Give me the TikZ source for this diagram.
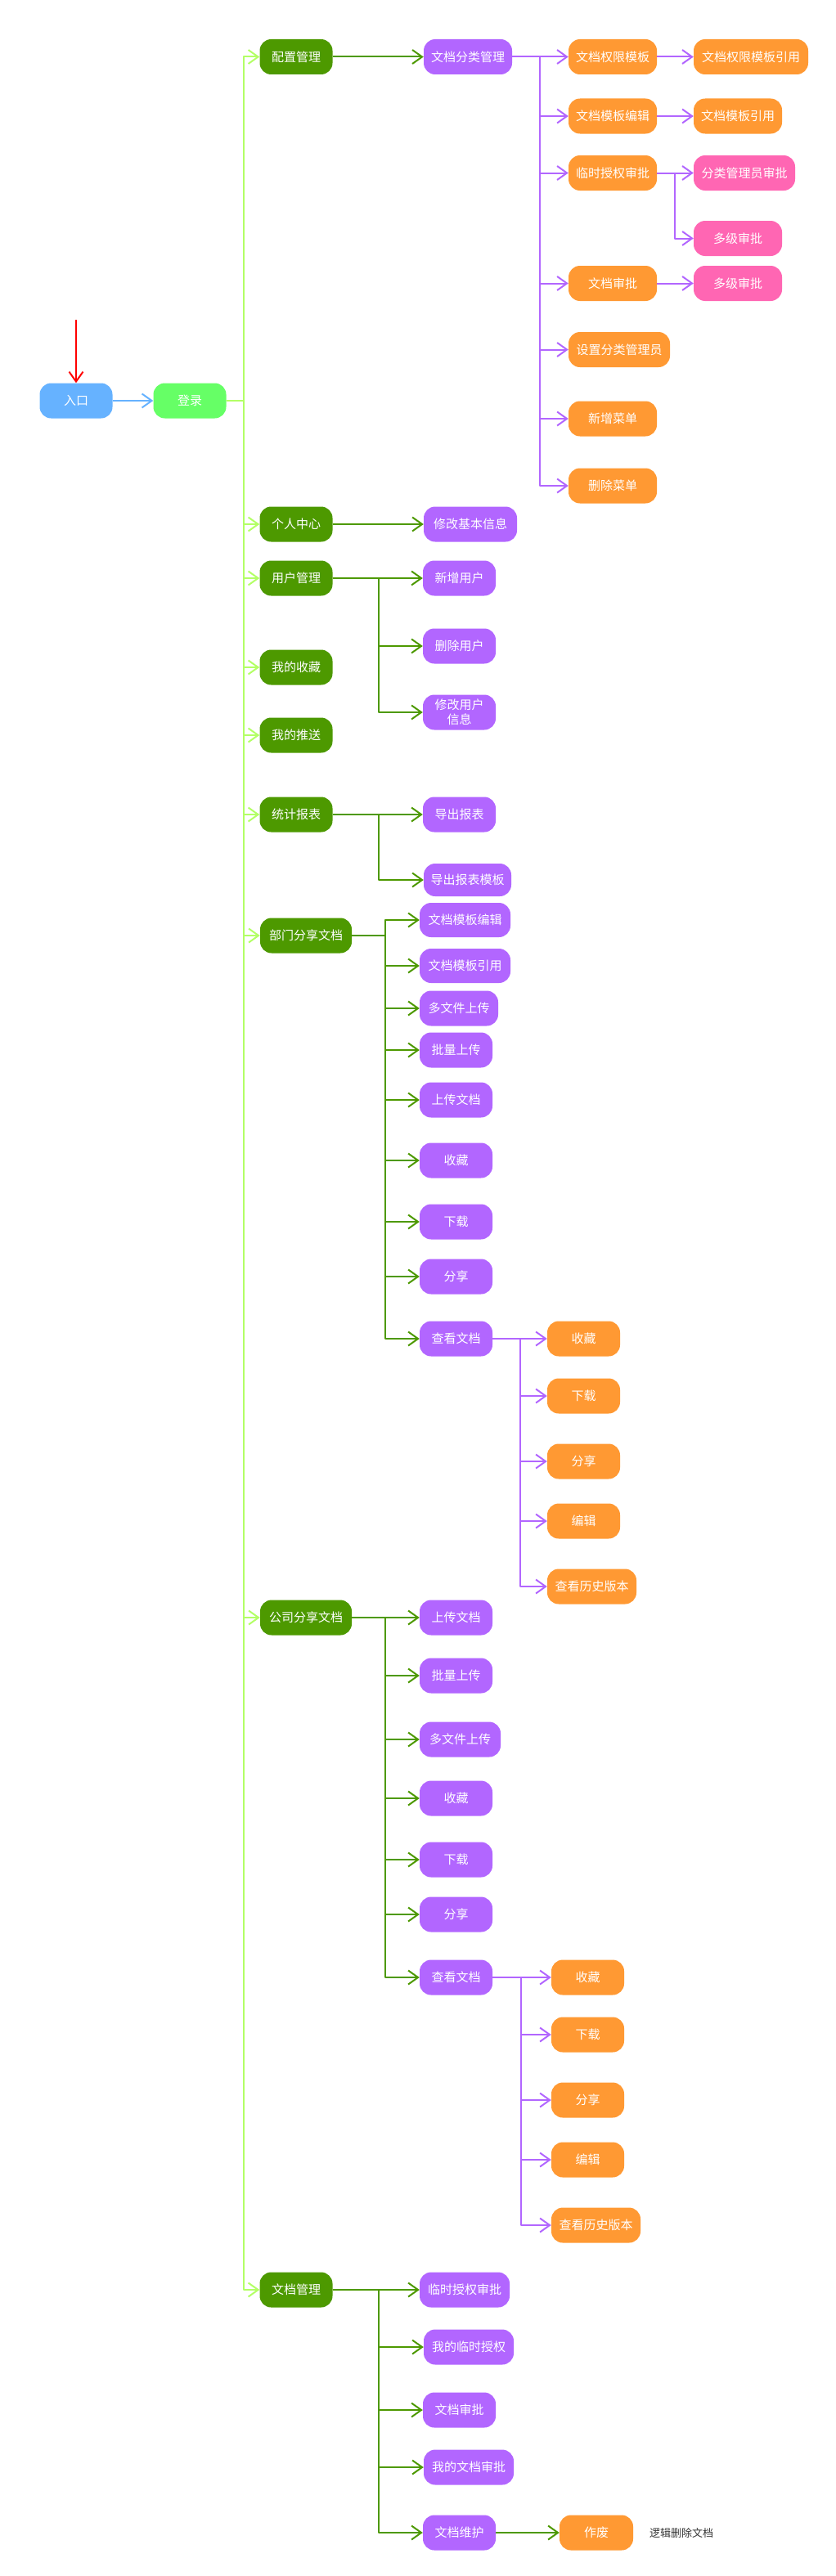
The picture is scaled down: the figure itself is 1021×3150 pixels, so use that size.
\documentclass[tikz,border=0pt]{standalone}
\usepackage{fontspec}
\newfontfamily\cjkfont{Noto Sans CJK SC}
\usetikzlibrary{arrows.meta}

\definecolor{entryblue}{HTML}{66B2FF}
\definecolor{loginlime}{HTML}{66FF66}
\definecolor{trunklime}{HTML}{B3FF66}
\definecolor{leafgreen}{HTML}{4D9900}
\definecolor{modpurple}{HTML}{B266FF}
\definecolor{taskorange}{HTML}{FF9933}
\definecolor{approvepink}{HTML}{FF66B3}
\definecolor{notegray}{HTML}{333333}

\begin{document}
\begin{tikzpicture}[
    x=1pt,
    y=-1pt,
    line join=round,
    box/.style={
        rectangle,
        rounded corners=14pt,
        minimum width=89pt,
        minimum height=43pt,
        inner sep=0pt,
        align=center,
        text=white,
        font=\cjkfont\fontsize{15}{18}\selectfont
    },
    lvlone/.style={box, fill=leafgreen},
    func/.style={box, fill=modpurple},
    oper/.style={box, fill=taskorange},
    appr/.style={box, fill=approvepink},
    note/.style={
        text=notegray,
        font=\cjkfont\fontsize{13}{16}\selectfont
    },
    link/.style={
        line width=2pt,
        -{Straight Barb[length=12pt,width=17pt]}
    },
    trunk/.style={link, trunklime},
    glink/.style={link, leafgreen},
    plink/.style={link, modpurple}
]

\useasboundingbox (0,0) rectangle (1021,3150);

% -------------------------------------------------
% 入口与登录
% -------------------------------------------------

\coordinate (start) at (93,391);   % 起始箭头

\node[box, fill=entryblue] (entry) at (93,490) {入口};
\node[box, fill=loginlime] (login) at (232,490) {登录};

% -------------------------------------------------
% 一级菜单
% -------------------------------------------------

\node[lvlone] (cfg)  at (362,69.5) {配置管理};
\node[lvlone] (home) at (362,641)  {个人中心};
\node[lvlone] (usr)  at (362,707)  {用户管理};
\node[lvlone] (fav)  at (362,816)  {我的收藏};
\node[lvlone] (push) at (362,899)  {我的推送};
\node[lvlone] (stat) at (362,996)  {统计报表};
\node[lvlone, minimum width=112pt] (dept) at (374,1144) {部门分享文档};
\node[lvlone, minimum width=112pt] (corp) at (374,1978) {公司分享文档};
\node[lvlone] (docm) at (362,2800) {文档管理};

% -------------------------------------------------
% 配置管理
% -------------------------------------------------

\node[func, minimum width=108pt] (cat) at (572,69.5) {文档分类管理};

\node[oper, minimum width=108pt] (tpl)   at (749,69.5)  {文档权限模板};
\node[oper, minimum width=108pt] (tedit) at (749,142)   {文档模板编辑};
\node[oper, minimum width=108pt] (tmp)   at (749,211.5) {临时授权审批};
\node[oper, minimum width=108pt] (aud)   at (749,346.5) {文档审批};
\node[oper, minimum width=124pt] (setm)  at (757,427.5) {设置分类管理员};
\node[oper, minimum width=108pt] (addm)  at (749,512)   {新增菜单};
\node[oper, minimum width=108pt] (delm)  at (749,594)   {删除菜单};

\node[oper, minimum width=140pt] (tplref) at (918,69.5)  {文档权限模板引用};
\node[oper, minimum width=108pt] (tref)   at (902,142)   {文档模板引用};
\node[appr, minimum width=124pt] (catok)  at (910,211.5) {分类管理员审批};
\node[appr, minimum width=108pt] (multa)  at (902,291.5) {多级审批};
\node[appr, minimum width=108pt] (multb)  at (902,346.5) {多级审批};

% -------------------------------------------------
% 个人中心、用户管理、统计报表
% -------------------------------------------------

\node[func, minimum width=114pt] (info) at (575,641) {修改基本信息};

\node[func] (uadd)  at (561.5,707) {新增用户};
\node[func] (udel)  at (561.5,790) {删除用户};
\node[func] (uedit) at (561.5,871) {修改用户\\信息};

\node[func] (rep) at (561.5,996) {导出报表};
\node[func, minimum width=107pt, minimum height=40pt] (reptpl) at (571.5,1076) {导出报表模板};

% -------------------------------------------------
% 部门分享文档
% -------------------------------------------------

\node[func, minimum width=111pt, minimum height=42pt] (dtedit) at (568.5,1125) {文档模板编辑};
\node[func, minimum width=111pt, minimum height=42pt] (dtref)  at (568.5,1181) {文档模板引用};
\node[func, minimum width=96pt] (dmulti) at (561,1233)   {多文件上传};
\node[func] (dbatch) at (557.5,1284) {批量上传};
\node[func] (dup)    at (557.5,1345) {上传文档};
\node[func] (dfav)   at (557.5,1419) {收藏};
\node[func] (ddown)  at (557.5,1494) {下载};
\node[func] (dshare) at (557.5,1561) {分享};
\node[func] (dview)  at (557.5,1637) {查看文档};

\node[oper] (dvfav)   at (713.5,1637) {收藏};
\node[oper] (dvdown)  at (713.5,1707) {下载};
\node[oper] (dvshare) at (713.5,1787) {分享};
\node[oper] (dvedit)  at (713.5,1860) {编辑};
\node[oper, minimum width=109pt] (dvhist) at (723.5,1940) {查看历史版本};

% -------------------------------------------------
% 公司分享文档
% -------------------------------------------------

\node[func] (cup)    at (557.5,1978) {上传文档};
\node[func] (cbatch) at (557.5,2049) {批量上传};
\node[func, minimum width=99pt] (cmulti) at (562.5,2127) {多文件上传};
\node[func] (cfav)   at (557.5,2199) {收藏};
\node[func] (cdown)  at (557.5,2274) {下载};
\node[func] (cshare) at (557.5,2341) {分享};
\node[func] (cview)  at (557.5,2418) {查看文档};

\node[oper] (cvfav)   at (718.5,2418) {收藏};
\node[oper] (cvdown)  at (718.5,2488) {下载};
\node[oper] (cvshare) at (718.5,2568) {分享};
\node[oper] (cvedit)  at (718.5,2641) {编辑};
\node[oper, minimum width=109pt] (cvhist) at (728.5,2721) {查看历史版本};

% -------------------------------------------------
% 文档管理
% -------------------------------------------------

\node[func, minimum width=110pt] (mtmp)   at (568,2800)   {临时授权审批};
\node[func, minimum width=110pt] (mmine)  at (573,2870)   {我的临时授权};
\node[func] (maud)  at (561.5,2947) {文档审批};
\node[func, minimum width=110pt] (mmyaud) at (573,3017)   {我的文档审批};
\node[func] (mkeep) at (561.5,3097) {文档维护};

\node[oper, minimum width=90pt] (void) at (729,3097) {作废};
\node[note] (voidnote) at (833,3097) {逻辑删除文档};

% -------------------------------------------------
% 入口连线
% -------------------------------------------------

\draw[link, red] (start) -- (entry.north);
\draw[link, entryblue] (entry.east) -- (login.west);

% -------------------------------------------------
% 主干：登录 -> 一级菜单
% -------------------------------------------------

\draw[trunk] (login.east) -- ++(21,0) |- (cfg.west);
\draw[trunk] (login.east) -- ++(21,0) |- (home.west);
\draw[trunk] (login.east) -- ++(21,0) |- (usr.west);
\draw[trunk] (login.east) -- ++(21,0) |- (fav.west);
\draw[trunk] (login.east) -- ++(21,0) |- (push.west);
\draw[trunk] (login.east) -- ++(21,0) |- (stat.west);
\draw[trunk] (login.east) -- ++(21,0) |- (dept.west);
\draw[trunk] (login.east) -- ++(21,0) |- (corp.west);
\draw[trunk] (login.east) -- ++(21,0) |- (docm.west);

% -------------------------------------------------
% 配置管理分支
% -------------------------------------------------

\draw[glink] (cfg.east) -- (cat.west);

\draw[plink] (cat.east) -- ++(34,0) |- (tpl.west);
\draw[plink] (cat.east) -- ++(34,0) |- (tedit.west);
\draw[plink] (cat.east) -- ++(34,0) |- (tmp.west);
\draw[plink] (cat.east) -- ++(34,0) |- (aud.west);
\draw[plink] (cat.east) -- ++(34,0) |- (setm.west);
\draw[plink] (cat.east) -- ++(34,0) |- (addm.west);
\draw[plink] (cat.east) -- ++(34,0) |- (delm.west);

\draw[plink] (tpl.east) -- (tplref.west);
\draw[plink] (tedit.east) -- (tref.west);
\draw[plink] (tmp.east) -- ++(22,0) |- (catok.west);
\draw[plink] (tmp.east) -- ++(22,0) |- (multa.west);
\draw[plink] (aud.east) -- (multb.west);

% -------------------------------------------------
% 个人中心、用户管理、统计报表分支
% -------------------------------------------------

\draw[glink] (home.east) -- (info.west);

\draw[glink] (usr.east) -- ++(56,0) |- (uadd.west);
\draw[glink] (usr.east) -- ++(56,0) |- (udel.west);
\draw[glink] (usr.east) -- ++(56,0) |- (uedit.west);

\draw[glink] (stat.east) -- ++(56,0) |- (rep.west);
\draw[glink] (stat.east) -- ++(56,0) |- (reptpl.west);

% -------------------------------------------------
% 部门分享文档分支
% -------------------------------------------------

\draw[glink] (dept.east) -- ++(41,0) |- (dtedit.west);
\draw[glink] (dept.east) -- ++(41,0) |- (dtref.west);
\draw[glink] (dept.east) -- ++(41,0) |- (dmulti.west);
\draw[glink] (dept.east) -- ++(41,0) |- (dbatch.west);
\draw[glink] (dept.east) -- ++(41,0) |- (dup.west);
\draw[glink] (dept.east) -- ++(41,0) |- (dfav.west);
\draw[glink] (dept.east) -- ++(41,0) |- (ddown.west);
\draw[glink] (dept.east) -- ++(41,0) |- (dshare.west);
\draw[glink] (dept.east) -- ++(41,0) |- (dview.west);

\draw[plink] (dview.east) -- ++(34,0) |- (dvfav.west);
\draw[plink] (dview.east) -- ++(34,0) |- (dvdown.west);
\draw[plink] (dview.east) -- ++(34,0) |- (dvshare.west);
\draw[plink] (dview.east) -- ++(34,0) |- (dvedit.west);
\draw[plink] (dview.east) -- ++(34,0) |- (dvhist.west);

% -------------------------------------------------
% 公司分享文档分支
% -------------------------------------------------

\draw[glink] (corp.east) -- ++(41,0) |- (cup.west);
\draw[glink] (corp.east) -- ++(41,0) |- (cbatch.west);
\draw[glink] (corp.east) -- ++(41,0) |- (cmulti.west);
\draw[glink] (corp.east) -- ++(41,0) |- (cfav.west);
\draw[glink] (corp.east) -- ++(41,0) |- (cdown.west);
\draw[glink] (corp.east) -- ++(41,0) |- (cshare.west);
\draw[glink] (corp.east) -- ++(41,0) |- (cview.west);

\draw[plink] (cview.east) -- ++(35,0) |- (cvfav.west);
\draw[plink] (cview.east) -- ++(35,0) |- (cvdown.west);
\draw[plink] (cview.east) -- ++(35,0) |- (cvshare.west);
\draw[plink] (cview.east) -- ++(35,0) |- (cvedit.west);
\draw[plink] (cview.east) -- ++(35,0) |- (cvhist.west);

% -------------------------------------------------
% 文档管理分支
% -------------------------------------------------

\draw[glink] (docm.east) -- ++(56,0) |- (mtmp.west);
\draw[glink] (docm.east) -- ++(56,0) |- (mmine.west);
\draw[glink] (docm.east) -- ++(56,0) |- (maud.west);
\draw[glink] (docm.east) -- ++(56,0) |- (mmyaud.west);
\draw[glink] (docm.east) -- ++(56,0) |- (mkeep.west);

\draw[glink] (mkeep.east) -- (void.west);

\end{tikzpicture}
\end{document}
